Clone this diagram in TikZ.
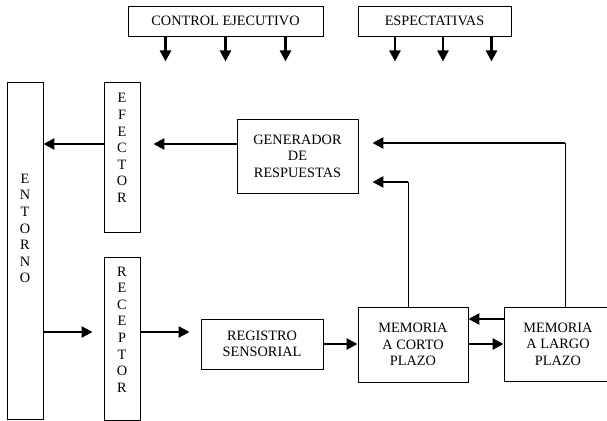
\documentclass[tikz,border=0pt]{standalone}
\usepackage{fontspec}
\setmainfont{Liberation Serif}
\usetikzlibrary{arrows.meta}

\begin{document}
\begin{tikzpicture}[x=1pt, y=-1pt,
    txt/.style={align=center, font=\fontsize{14.3}{16.6}\selectfont},
    box/.style={draw, line width=0.9pt, inner sep=0pt, txt},
    vbox/.style={box, minimum width=36pt},
    vlabel/.style={txt, inner sep=0pt},
    arr/.style={line width=2.6pt, -{Triangle[length=11pt,width=11pt]}},
    link/.style={line width=0.9pt}]
    \useasboundingbox (0,0) rectangle (607,420);

    % Top boxes
    \node[box, minimum width=195pt, minimum height=30pt] (ctrl) at (225.5,21) {CONTROL EJECUTIVO};
    \node[box, minimum width=153pt, minimum height=30pt] (expect) at (434.5,21) {ESPECTATIVAS};

    % Vertical boxes on the left
    \node[vbox, minimum height=337pt,
          label={[vlabel, yshift=22pt]center:{E\\N\\T\\O\\R\\N\\O}}] (entorno) at (25,250.5) {};
    \node[vbox, minimum height=150pt,
          label={[vlabel, yshift=9pt]center:{E\\F\\E\\C\\T\\O\\R}}] (efector) at (122,157) {};
    \node[vbox, minimum height=163pt,
          label={[vlabel, yshift=9pt]center:{R\\E\\C\\E\\P\\T\\O\\R}}] (receptor) at (122,338.5) {};

    % Processing boxes
    \node[box, minimum width=121pt, minimum height=74pt] (gen) at (297.5,156) {GENERADOR\\DE\\RESPUESTAS};
    \node[box, minimum width=122pt, minimum height=50pt] (registro) at (262,344) {REGISTRO\\SENSORIAL};
    \node[box, minimum width=110pt, minimum height=75pt] (corto) at (413,344.5) {MEMORIA\\A CORTO\\PLAZO};
    \node[box, minimum width=130pt, minimum height=74pt,
          label={[vlabel, xshift=-11pt]center:{MEMORIA\\A LARGO\\PLAZO}}] (largo) at (569,344) {};

    % Arrows from the top boxes
    \foreach \dx in {-60,0,60}
        \draw[arr] ([xshift=\dx pt]ctrl.south) -- ++(0,25);
    \foreach \dx in {-39.5,8.5,57}
        \draw[arr] ([xshift=\dx pt]expect.south) -- ++(0,25);

    % Output side
    \coordinate (out) at (0,144);
    \draw[arr, shorten >=13pt] (gen.west |- out) -- (efector.east |- out);
    \draw[arr] (efector.west |- out) -- (entorno.east |- out);

    % Input side
    \coordinate (in) at (0,332);
    \draw[arr, shorten >=11pt] (entorno.east |- in) -- (receptor.west |- in);
    \draw[arr, shorten >=11pt] (receptor.east |- in) -- (registro.west |- in);
    \draw[arr] (registro.east) -- (corto.west |- registro.east);
    \draw[arr] (corto.east |- registro.east) -- (largo.west |- registro.east);
    \draw[arr] ([yshift=25pt]largo.west) -- ([yshift=25pt]largo.west -| corto.east);

    % Feedback to the response generator
    \coordinate (ltop) at (565,143);
    \coordinate (ctop) at (408,182);
    \draw[link] (ltop |- largo.north) -- (ltop);
    \draw[arr, shorten >=14pt] (ltop) -- (gen.east |- ltop);
    \draw[link] (ctop |- corto.north) -- (ctop);
    \draw[arr, shorten >=14pt] (ctop) -- (gen.east |- ctop);

\end{tikzpicture}
\end{document}
